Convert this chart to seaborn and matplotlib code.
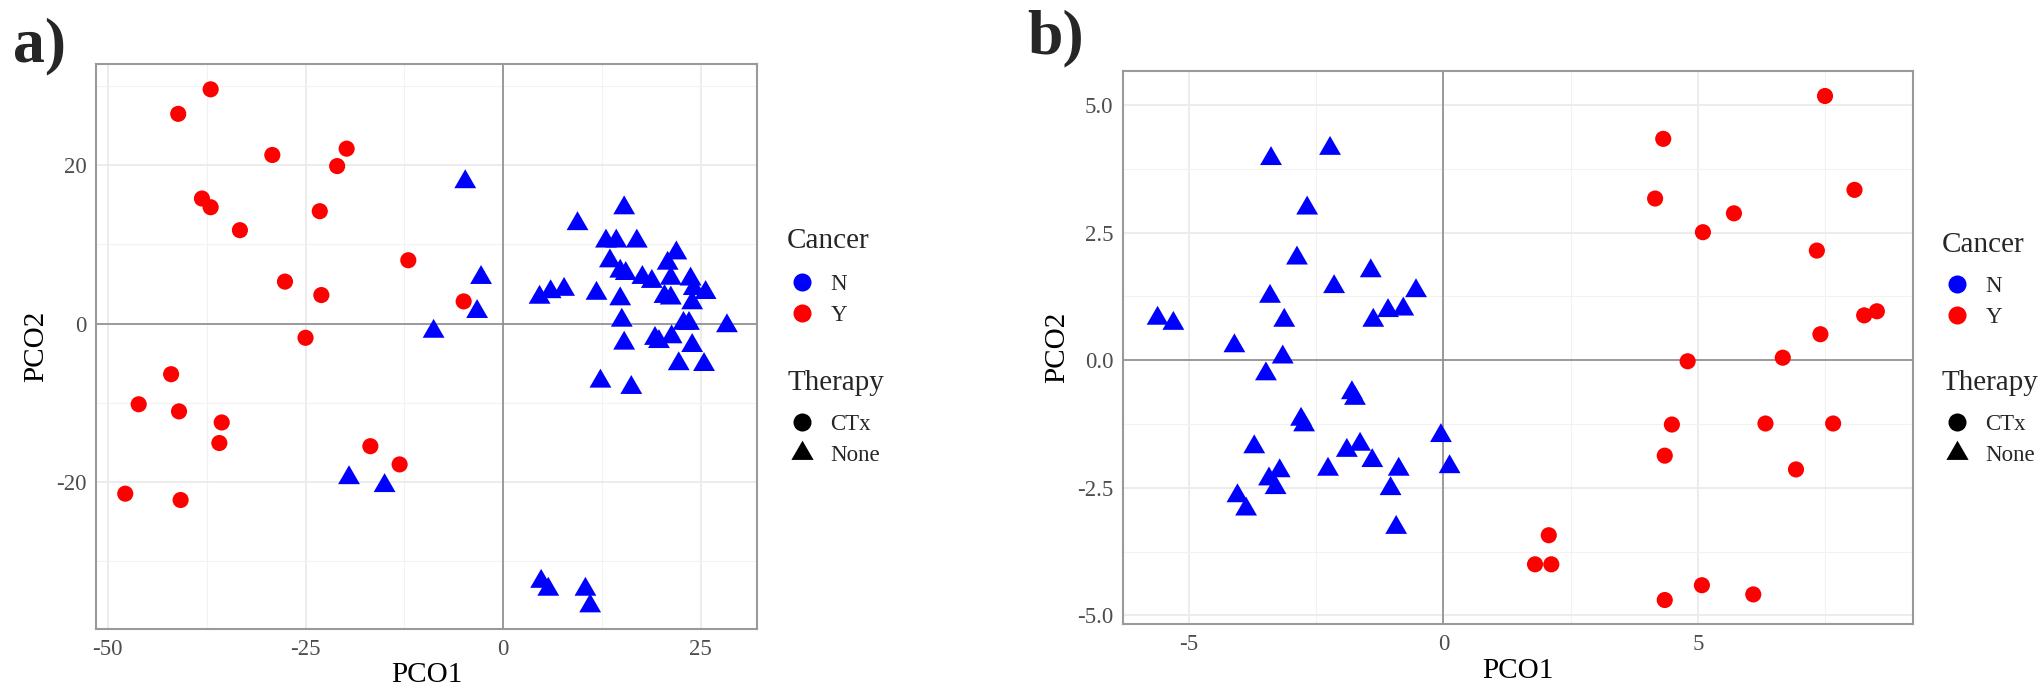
import numpy as np
import pandas as pd
import matplotlib
matplotlib.use("Agg")
import matplotlib.pyplot as plt
import seaborn as sns
from matplotlib.lines import Line2D
from matplotlib.ticker import MultipleLocator, FormatStrFormatter

# ---------------- data ----------------
# Panel a) : Cancer = Y (Therapy CTx), Cancer = N (Therapy None)
a_ctx_x = [-41.1, -37.0, -29.2, -19.8, -21.0, -38.1, -37.0, -23.2, -33.3, -12.0, -27.6, -23.0,
           -5.0, -25.0, -42.0, -46.1, -41.0, -35.6, -35.9, -47.8, -40.8, -16.8, -13.1]
a_ctx_y = [26.5, 29.6, 21.3, 22.1, 19.9, 15.8, 14.7, 14.2, 11.8, 8.0, 5.3, 3.6,
           2.8, -1.8, -6.4, -10.2, -11.1, -12.5, -15.1, -21.5, -22.3, -15.5, -17.8]
a_none_x = [-4.8, -2.8, -3.3, -8.8, -19.5, -15.0,
            15.3, 9.4, 13.0, 14.3, 16.9, 21.9, 13.5, 20.8, 14.8, 15.5,
            17.6, 18.8, 21.2, 23.7, 24.1, 25.6, 4.6, 6.0, 7.7, 11.8,
            14.8, 20.4, 21.2, 23.9, 15.0, 22.8, 23.5, 28.3,
            15.3, 19.2, 19.7, 21.3, 23.9, 22.2, 25.4, 12.3, 16.2,
            4.8, 5.7, 10.4, 11.0]
a_none_y = [17.9, 5.8, 1.5, -1.0, -19.5, -20.5,
            14.6, 12.6, 10.4, 10.4, 10.4, 8.9, 7.9, 7.6, 6.6, 6.3,
            5.8, 5.3, 5.7, 5.6, 4.4, 3.9, 3.3, 4.0, 4.3, 3.8,
            3.1, 3.4, 3.2, 2.6, 0.4, 0.0, 0.0, -0.3,
            -2.5, -1.9, -2.3, -1.7, -2.8, -5.1, -5.2, -7.3, -8.1,
            -32.6, -33.6, -33.6, -35.7]

# Panel b)
b_ctx_x = [7.50, 4.32, 8.08, 4.16, 5.71, 5.10, 7.34, 8.52, 8.27, 7.41, 6.67, 4.80,
           4.49, 6.33, 7.66, 4.35, 6.93, 2.07, 1.80, 2.12, 5.08, 6.09, 4.35]
b_ctx_y = [5.18, 4.34, 3.34, 3.17, 2.88, 2.51, 2.15, 0.96, 0.88, 0.51, 0.05, -0.02,
           -1.26, -1.24, -1.24, -1.87, -2.14, -3.43, -4.00, -4.00, -4.41, -4.59, -4.70]
b_none_x = [-3.39, -2.23, -2.68, -2.88, -1.43, -2.15, -0.54, -3.41, -0.79, -1.09, -1.38, -3.13,
            -5.62, -5.31, -4.11, -3.16, -3.49, -1.80, -1.74, -2.80, -2.74, -3.72, -1.64, -1.90,
            -0.05, -1.40, -3.22, -2.27, -0.88, 0.12, -3.43, -3.30, -1.04, -4.05, -3.88, -0.93]
b_none_y = [3.95, 4.15, 2.98, 2.00, 1.75, 1.44, 1.36, 1.25, 1.00, 0.97, 0.78, 0.78,
            0.82, 0.72, 0.28, 0.06, -0.27, -0.64, -0.75, -1.16, -1.27, -1.70, -1.65, -1.77,
            -1.48, -1.97, -2.17, -2.14, -2.14, -2.09, -2.33, -2.50, -2.52, -2.66, -2.92, -3.28]

cancer_levels = ["N", "Y"]
therapy_levels = ["CTx", "None"]
a_xticks = [-50, -25, 0, 25]
a_yticks = [-20, 0, 20]
b_xticks = [-5, 0, 5]
b_yticks = [-5.0, -2.5, 0.0, 2.5, 5.0]


def make_df(cx, cy, nx, ny):
    d1 = pd.DataFrame({"PCO1": cx, "PCO2": cy, "Cancer": "Y", "Therapy": "CTx"})
    d2 = pd.DataFrame({"PCO1": nx, "PCO2": ny, "Cancer": "N", "Therapy": "None"})
    return pd.concat([d1, d2], ignore_index=True)


df_a = make_df(a_ctx_x, a_ctx_y, a_none_x, a_none_y)
df_b = make_df(b_ctx_x, b_ctx_y, b_none_x, b_none_y)

# ---------------- style ----------------
sns.set_style("white")
plt.rcParams["font.family"] = ["Liberation Serif", "DejaVu Serif"]
plt.rcParams["axes.unicode_minus"] = False

palette = {"N": "#0000FF", "Y": "#FF0000"}
TRI = [(-1.0, -0.577), (1.0, -0.577), (0.0, 1.155)]
markers = {"CTx": "o", "None": TRI}
sizes = {"CTx": 135, "None": 330}

BORDER = "#9A9A9A"
ZERO = "#8C8C8C"
GRID = "#EBEBEB"
TICKLAB = "#4D4D4D"

W, H = 2038, 687
fig = plt.figure(figsize=(W / 100, H / 100), dpi=100)


def px_axes(l, t, r, b):
    return fig.add_axes([l / W, 1 - b / H, (r - l) / W, (b - t) / H])


ax_a = px_axes(96, 64, 757, 629)
ax_b = px_axes(1123, 71, 1913, 624)


def draw(ax, df, xlim, ylim, xticks, yticks, xminor, yminor, yfmt):
    sns.scatterplot(data=df, x="PCO1", y="PCO2", hue="Cancer", style="Therapy",
                    size="Therapy", sizes=sizes, palette=palette, markers=markers,
                    hue_order=cancer_levels, style_order=therapy_levels,
                    size_order=therapy_levels, linewidth=0, legend=False,
                    ax=ax, zorder=3)
    ax.set_xlim(xlim)
    ax.set_ylim(ylim)
    ax.set_xticks(xticks)
    ax.set_yticks(yticks)
    ax.xaxis.set_minor_locator(MultipleLocator(xminor))
    ax.yaxis.set_minor_locator(MultipleLocator(yminor))
    ax.yaxis.set_major_formatter(FormatStrFormatter(yfmt))
    ax.xaxis.set_major_formatter(FormatStrFormatter("%d"))
    ax.grid(which="major", color=GRID, lw=1.3, zorder=0)
    ax.grid(which="minor", color="#F2F2F2", lw=0.8, zorder=0)
    ax.set_axisbelow(True)
    ax.axhline(0, color=ZERO, lw=1.2, zorder=1.5)
    ax.axvline(0, color=ZERO, lw=1.2, zorder=1.5)
    for s in ax.spines.values():
        s.set_color(BORDER)
        s.set_linewidth(1.5)
    ax.tick_params(which="major", direction="out", length=4, width=1.1,
                   color="#333333", labelcolor=TICKLAB, labelsize=16.5, pad=3)
    ax.tick_params(which="minor", length=0)
    ax.set_xlabel("PCO1", fontsize=21, labelpad=2, color="black")
    ax.set_ylabel("PCO2", fontsize=21, labelpad=5, color="black")


draw(ax_a, df_a, (-51.5, 32.1), (-38.6, 32.8), a_xticks, a_yticks, 12.5, 10, "%d")
draw(ax_b, df_b, (-6.30, 9.23), (-5.17, 5.67), b_xticks, b_yticks, 2.5, 1.25, "%.1f")


def add_legends(ax, x0, y_cancer_title, y_cancer_rows, y_ther_title, y_ther_rows):
    h_cancer = [Line2D([], [], marker="o", ls="", color=palette[c], markersize=13,
                       markeredgewidth=0) for c in cancer_levels]
    h_ther = [Line2D([], [], marker="o", ls="", color="black", markersize=13, markeredgewidth=0),
              Line2D([], [], marker=TRI, ls="", color="black", markersize=18.5, markeredgewidth=0)]
    kw = dict(frameon=False, loc="center left", bbox_transform=fig.transFigure,
              fontsize=16.5, handlelength=1.3, handletextpad=0.6,
              labelspacing=0.45, borderpad=0, borderaxespad=0)
    l1 = ax.legend(h_cancer, cancer_levels, bbox_to_anchor=(x0 / W, 1 - y_cancer_rows / H), **kw)
    ax.add_artist(l1)
    ax.legend(h_ther, therapy_levels, bbox_to_anchor=(x0 / W, 1 - y_ther_rows / H), **kw)
    fig.text(x0 / W, 1 - y_cancer_title / H, "Cancer", fontsize=21, ha="left", va="baseline")
    fig.text(x0 / W, 1 - y_ther_title / H, "Therapy", fontsize=21, ha="left", va="baseline")


add_legends(ax_a, 787, 248, 300, 390, 440)
add_legends(ax_b, 1942, 252, 302, 390, 440)

fig.text(13 / W, 1 - 61 / H, "a)", fontsize=46, fontweight="bold", ha="left", va="baseline")
fig.text(1027 / W, 1 - 53 / H, "b)", fontsize=46, fontweight="bold", ha="left", va="baseline")

fig.savefig("out.png", dpi=100, facecolor="white")
